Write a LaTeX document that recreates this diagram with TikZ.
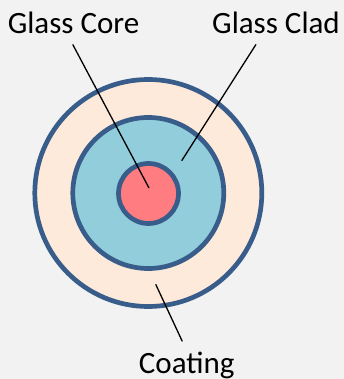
\documentclass[tikz,border=0pt]{standalone}
\usepackage{fontspec}
\setmainfont{Carlito}
\usepackage{tikz}
\definecolor{pagegray}{RGB}{242,242,242}
\definecolor{ringblue}{RGB}{56,93,138}
\definecolor{coatpeach}{RGB}{253,234,218}
\definecolor{cladaqua}{RGB}{146,205,220}
\definecolor{corered}{RGB}{255,124,128}
\tikzset{
  ring/.style={circle,draw=ringblue,line width=4.7pt,inner sep=0pt,outer sep=0pt},
  lbl/.style={anchor=base,inner sep=10pt,font=\fontsize{31}{37}\selectfont},
  pointer/.style={black,line width=1.3pt}
}

\begin{document}
\begin{tikzpicture}[x=1pt,y=-1pt]
\fill[pagegray] (0,0) rectangle (344,379);
\useasboundingbox (0,0) rectangle (344,379);
\node[ring,fill=coatpeach,minimum size=227pt] (coat) at (148.3,193) {};
\node[ring,fill=cladaqua,minimum size=151pt] (clad) at (148.3,193) {};
\node[ring,fill=corered,minimum size=60pt] (core) at (148.5,193.5) {};
\node[lbl] (corelbl) at (73.5,34) {Glass Core};
\node[lbl] (cladlbl) at (276,34) {Glass Clad};
\node[lbl] (coatlbl) at (186.7,373) {Coating};
\coordinate (coreend) at (149,188);
\coordinate (cladend) at (181.7,160.7);
\coordinate (coatend) at (155.7,284.3);
\draw[pointer] (corelbl.south -| 72.7,0) -- (coreend);
\draw[pointer] (cladlbl.south -| 256,0) -- (cladend);
\draw[pointer] (coatlbl.north -| 182.3,0) -- (coatend);
\end{tikzpicture}
\end{document}
